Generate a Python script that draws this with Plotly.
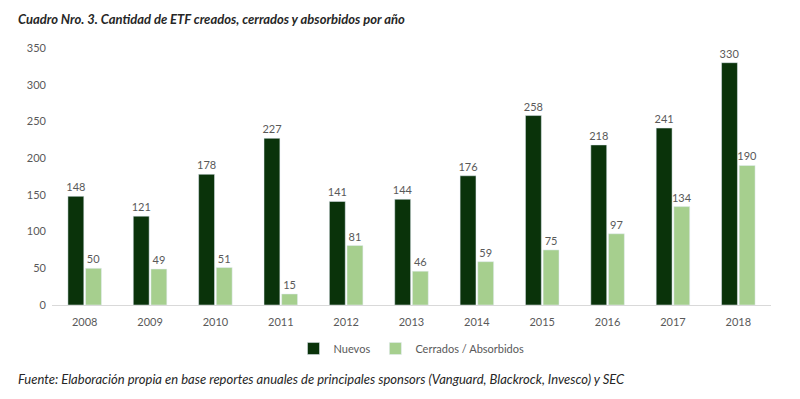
import plotly.graph_objects as go

years = ["2008", "2009", "2010", "2011", "2012", "2013", "2014", "2015", "2016", "2017", "2018"]
nuevos = [148, 121, 178, 227, 141, 144, 176, 258, 218, 241, 330]
cerrados = [50, 49, 51, 15, 81, 46, 59, 75, 97, 134, 190]
y_ticks = [0, 50, 100, 150, 200, 250, 300, 350]

FONT = "Lato"
GRAY = "#595959"

fig = go.Figure()
fig.add_trace(go.Bar(
    x=years, y=nuevos, name="Nuevos",
    marker=dict(color="#0a330a"),
    text=nuevos, textposition="outside", constraintext="none",
    textfont=dict(family=FONT, size=11, color=GRAY), cliponaxis=False,
))
fig.add_trace(go.Bar(
    x=years, y=cerrados, name="Cerrados / Absorbidos",
    marker=dict(color="#a6cf8e"),
    text=cerrados, textposition="outside", constraintext="none",
    textfont=dict(family=FONT, size=11, color=GRAY), cliponaxis=False,
))

fig.update_layout(
    width=800, height=399,
    paper_bgcolor="white", plot_bgcolor="white",
    margin=dict(l=52, r=29, t=48, b=94),
    barmode="group", bargap=0.46, bargroupgap=0.1,
    font=dict(family=FONT, size=11, color=GRAY),
    showlegend=True,
    legend=dict(orientation="h", x=0.5, xanchor="center", y=-0.113, yanchor="top",
                font=dict(family=FONT, size=11, color=GRAY), itemwidth=30,
                traceorder="normal"),
    xaxis=dict(showgrid=False, showline=True, linecolor="#d9d9d9", linewidth=1,
               ticks="", ticklabelstandoff=7,
               tickfont=dict(family=FONT, size=11, color=GRAY)),
    yaxis=dict(range=[0, 350], tickvals=y_ticks, showgrid=False, zeroline=False,
               showline=False, ticks="", ticklabelstandoff=5,
               tickfont=dict(family=FONT, size=11, color=GRAY)),
    annotations=[
        dict(text="<b><i>Cuadro Nro. 3. Cantidad de ETF creados, cerrados y absorbidos por año</i></b>",
             xref="paper", yref="paper", x=0, xanchor="left", xshift=-36,
             y=1, yanchor="bottom", yshift=19, showarrow=False,
             font=dict(family=FONT, size=13, color="#262626")),
        dict(text="<i>Fuente: Elaboración propia en base reportes anuales de principales sponsors (Vanguard, Blackrock, Invesco) y SEC</i>",
             xref="paper", yref="paper", x=0, xanchor="left", xshift=-36,
             y=0, yanchor="top", yshift=-64, showarrow=False,
             font=dict(family=FONT, size=13, color="#262626")),
    ],
)

fig.write_html("out.html", config={"displayModeBar": False},
               post_script="document.body.style.margin='0';")
